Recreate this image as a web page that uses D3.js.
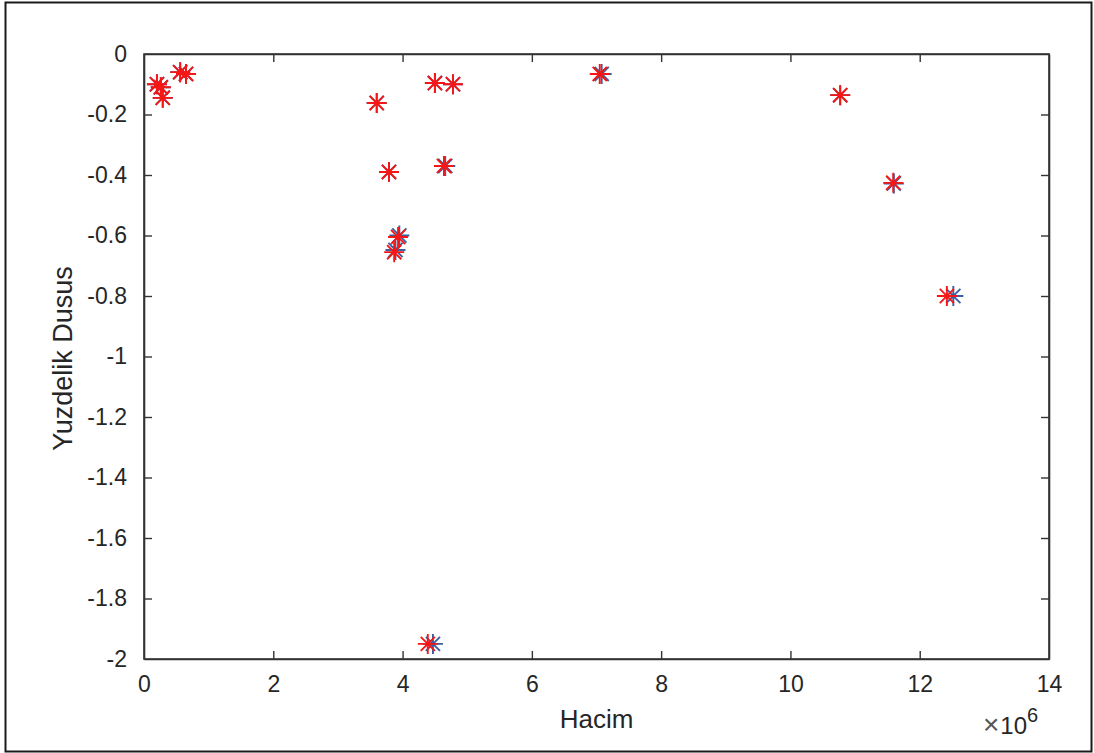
<!DOCTYPE html>
<html>
<head>
<meta charset="utf-8">
<script src="https://cdn.jsdelivr.net/npm/d3@7"></script>
<style>
  html, body { margin: 0; padding: 0; background: #fff; }
  svg { display: block; }
  text { font-family: "Liberation Sans", Arial, Helvetica, sans-serif; fill: #262626; }
</style>
</head>
<body>
<svg id="chart" width="1094" height="753"></svg>
<script>
// Volume (in millions) and percentage drop — measured series (blue)
const volumeBlue = [0.20, 0.26, 0.29, 0.56, 0.65, 3.60, 4.50, 4.78, 3.79, 4.66, 3.95, 3.89, 7.08, 10.77, 11.60, 12.52, 4.47];
const dropBlue   = [-0.100, -0.110, -0.145, -0.060, -0.066, -0.162, -0.096, -0.100, -0.390, -0.370, -0.600, -0.648, -0.066, -0.136, -0.428, -0.800, -1.950];
// Model series (red)
const volumeRed  = [0.20, 0.26, 0.29, 0.56, 0.65, 3.60, 4.50, 4.78, 3.79, 4.64, 3.93, 3.87, 7.05, 10.77, 11.59, 12.42, 4.39];
const dropRed    = [-0.100, -0.110, -0.145, -0.060, -0.066, -0.162, -0.096, -0.100, -0.390, -0.370, -0.605, -0.655, -0.066, -0.136, -0.426, -0.800, -1.950];

const xTicks = [0, 2, 4, 6, 8, 10, 12, 14];
const yTicks = [0, -0.2, -0.4, -0.6, -0.8, -1, -1.2, -1.4, -1.6, -1.8, -2];
const xLabel = "Hacim";
const yLabel = "Yuzdelik Dusus";

const svg = d3.select("#chart");
const box = { left: 144, top: 54, right: 1049, bottom: 659 };

const x = d3.scaleLinear().domain([0, 14]).range([box.left, box.right]);
const y = d3.scaleLinear().domain([-2, 0]).range([box.bottom, box.top]);

// outer frame
svg.append("rect")
  .attr("x", 5.5).attr("y", 2.5)
  .attr("width", 1086).attr("height", 749)
  .attr("fill", "none").attr("stroke", "#1a1a1a").attr("stroke-width", 2);

const axisColor = "#333";
const tickLen = 8;
const fontTick = 23;

// bottom axis
const gx = svg.append("g").attr("transform", `translate(0,${box.bottom})`)
  .call(d3.axisBottom(x).tickValues(xTicks).tickSizeInner(-tickLen).tickSizeOuter(0).tickPadding(tickLen + 9)
    .tickFormat(d3.format("d")));
// top axis (ticks only)
const gxt = svg.append("g").attr("transform", `translate(0,${box.top})`)
  .call(d3.axisTop(x).tickValues(xTicks).tickSizeInner(-tickLen).tickSizeOuter(0).tickFormat(""));
// left axis
const gy = svg.append("g").attr("transform", `translate(${box.left},0)`)
  .call(d3.axisLeft(y).tickValues(yTicks).tickSizeInner(-tickLen).tickSizeOuter(0).tickPadding(tickLen + 9)
    .tickFormat(d => d3.format("")(d).replace("\u2212", "-")));
// right axis (ticks only)
const gyr = svg.append("g").attr("transform", `translate(${box.right},0)`)
  .call(d3.axisRight(y).tickValues(yTicks).tickSizeInner(-tickLen).tickSizeOuter(0).tickFormat(""));

[gx, gxt, gy, gyr].forEach(g => {
  g.select(".domain").attr("stroke", axisColor).attr("stroke-width", 1.6);
  g.selectAll(".tick line").attr("stroke", axisColor).attr("stroke-width", 1.4);
  g.selectAll(".tick text")
    .attr("font-family", "Liberation Sans, Arial, sans-serif")
    .attr("font-size", fontTick)
    .attr("fill", "#262626");
});
// no ticks on the box corners
gx.selectAll(".tick").filter(d => d === 0 || d === 14).select("line").remove();
gxt.selectAll(".tick").filter(d => d === 0 || d === 14).select("line").remove();
gy.selectAll(".tick").filter(d => d === 0 || d === -2).select("line").remove();
gyr.selectAll(".tick").filter(d => d === 0 || d === -2).select("line").remove();

// full axes box
svg.append("rect")
  .attr("x", box.left).attr("y", box.top)
  .attr("width", box.right - box.left).attr("height", box.bottom - box.top)
  .attr("fill", "none").attr("stroke", axisColor).attr("stroke-width", 1.6);

// axis labels
svg.append("text")
  .attr("x", (box.left + box.right) / 2).attr("y", 728)
  .attr("text-anchor", "middle").attr("font-size", 26)
  .text(xLabel);

svg.append("text")
  .attr("transform", `translate(72,${(box.top + box.bottom) / 2 + 2}) rotate(-90)`)
  .attr("text-anchor", "middle").attr("font-size", 27)
  .text(yLabel);

// exponent note
const ex = svg.append("text").attr("x", 983).attr("y", 734).attr("font-size", 24);
ex.append("tspan").attr("font-size", 28).attr("fill", "#555").text("\u00d7");
ex.append("tspan").attr("dx", 1).text("10");
ex.append("tspan").attr("dy", -12).attr("font-size", 20).text("6");

// asterisk marker
const r = 10, dd = r * 0.7071;
const star = `M${-r},0L${r},0M0,${-r}L0,${r}M${-dd},${-dd}L${dd},${dd}M${-dd},${dd}L${dd},${-dd}`;

function drawSeries(xs, ys, color, cls) {
  svg.append("g").attr("class", cls)
    .selectAll("path")
    .data(xs.map((v, i) => [v, ys[i]]))
    .join("path")
    .attr("d", star)
    .attr("transform", d => `translate(${x(d[0])},${y(d[1])})`)
    .attr("fill", "none")
    .attr("stroke", color)
    .attr("stroke-width", 1.9);
}

drawSeries(volumeBlue, dropBlue, "#3a5fa0", "blue");
drawSeries(volumeRed, dropRed, "#f51616", "red");
</script>
</body>
</html>
